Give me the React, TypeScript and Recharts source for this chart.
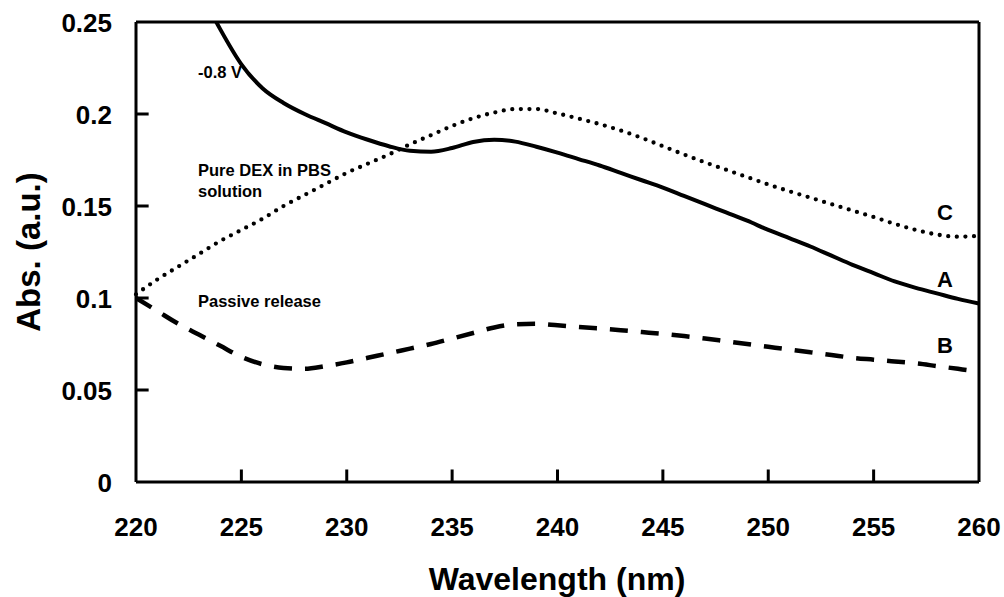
import { Line, LineChart, ReferenceLine, XAxis, YAxis } from "recharts";

const FONT = '"Liberation Sans", Arial, sans-serif';

// wavelength grid (nm)
const wavelengths = [
  220, 221, 222, 223, 224, 225, 226, 227, 228, 229, 230, 231, 232, 233, 234, 235, 236, 237, 238, 239, 240,
  241, 242, 243, 244, 245, 246, 247, 248, 249, 250, 251, 252, 253, 254, 255, 256, 257, 258, 259, 260,
];

// A: -0.8 V (solid) — leaves the top of the frame below 224 nm
const absA = [
  null, null, null, 0.268, 0.246, 0.227, 0.214, 0.206, 0.2, 0.195, 0.19, 0.186, 0.1825, 0.18, 0.1795, 0.1815,
  0.1848, 0.186, 0.185, 0.1822, 0.179, 0.1755, 0.172, 0.168, 0.164, 0.16, 0.1555, 0.151, 0.1465, 0.142, 0.137,
  0.1325, 0.128, 0.123, 0.118, 0.1135, 0.109, 0.1055, 0.1025, 0.0995, 0.097,
];

// B: passive release (dashed)
const absB = [
  0.1, 0.093, 0.086, 0.08, 0.074, 0.068, 0.064, 0.062, 0.0615, 0.063, 0.065, 0.0675, 0.07, 0.0725, 0.075,
  0.078, 0.081, 0.084, 0.0857, 0.086, 0.0852, 0.0843, 0.0834, 0.0825, 0.0815, 0.0805, 0.0793, 0.078, 0.0765,
  0.075, 0.0735, 0.072, 0.0705, 0.069, 0.0675, 0.0665, 0.0655, 0.0645, 0.063, 0.0615, 0.06,
];

// C: pure DEX in PBS solution (dotted)
const absC = [
  0.102, 0.11, 0.117, 0.124, 0.131, 0.137, 0.143, 0.15, 0.156, 0.162, 0.168, 0.173, 0.178, 0.1835, 0.1885,
  0.1935, 0.1977, 0.2008, 0.2027, 0.2027, 0.2003, 0.1975, 0.1945, 0.191, 0.187, 0.1825, 0.178, 0.1737, 0.1697,
  0.1657, 0.1617, 0.158, 0.1545, 0.151, 0.1475, 0.144, 0.1403, 0.137, 0.1345, 0.1333, 0.1338,
];

const xTicks = [220, 225, 230, 235, 240, 245, 250, 255, 260];
const yTicks = [0, 0.05, 0.1, 0.15, 0.2, 0.25];

const data = wavelengths.map((wl, i) => ({ wl, a: absA[i], b: absB[i], c: absC[i] }));

// inward tick marks, in data units (~12px)
const X_TICK_H = 0.0068;
const Y_TICK_W = 0.6;

const TICK_GAP = 20;
const TICK_FONT = 26;

function XTick({ x, y, payload }: any) {
  const axisY = y - TICK_GAP;
  return (
    <text x={x} y={axisY + 54} textAnchor="middle" fontFamily={FONT} fontWeight={700} fontSize={TICK_FONT} fill="#000">
      {payload.value}
    </text>
  );
}

function YTick({ x, y, payload }: any) {
  const axisX = x + TICK_GAP;
  return (
    <text x={axisX - 24} y={y} dy="0.4em" textAnchor="end" fontFamily={FONT} fontWeight={700} fontSize={TICK_FONT} fill="#000">
      {payload.value}
    </text>
  );
}

const noteStyle = {
  position: "absolute" as const,
  fontFamily: FONT,
  fontWeight: 700,
  color: "#000",
  whiteSpace: "nowrap" as const,
  lineHeight: 1,
};

export default function App() {
  return (
    <div style={{ position: "absolute", left: 0, top: 0, width: 1004, height: 597, background: "#fff" }}>
      <LineChart width={1004} height={597} data={data} margin={{ top: 22, right: 25, left: 0, bottom: 0 }}>
        <XAxis
          dataKey="wl"
          type="number"
          domain={[220, 260]}
          ticks={xTicks}
          height={115}
          tickSize={0}
          tickMargin={TICK_GAP}
          tick={<XTick />}
          tickLine={false}
          axisLine={{ stroke: "#000", strokeWidth: 3 }}
        />
        <YAxis
          type="number"
          domain={[0, 0.25]}
          ticks={yTicks}
          allowDataOverflow
          width={136}
          tickSize={0}
          tickMargin={TICK_GAP}
          tick={<YTick />}
          tickLine={false}
          axisLine={{ stroke: "#000", strokeWidth: 3 }}
        />

        {/* frame: top and right edges */}
        <ReferenceLine y={0.25} stroke="#000" strokeWidth={3} ifOverflow="visible" />
        <ReferenceLine x={260} stroke="#000" strokeWidth={3} ifOverflow="visible" />

        {xTicks.slice(1, -1).map((t) => (
          <ReferenceLine
            key={`xt${t}`}
            segment={[
              { x: t, y: 0 },
              { x: t, y: X_TICK_H },
            ]}
            stroke="#000"
            strokeWidth={3}
            ifOverflow="visible"
          />
        ))}
        {yTicks.slice(1, -1).map((t) => (
          <ReferenceLine
            key={`yt${t}`}
            segment={[
              { x: 220, y: t },
              { x: 220 + Y_TICK_W, y: t },
            ]}
            stroke="#000"
            strokeWidth={3}
            ifOverflow="visible"
          />
        ))}

        <Line
          dataKey="c"
          type="monotone"
          stroke="#000"
          strokeWidth={4.3}
          strokeDasharray="0 8.6"
          strokeLinecap="round"
          dot={false}
          isAnimationActive={false}
        />
        <Line
          dataKey="b"
          type="monotone"
          stroke="#000"
          strokeWidth={4.5}
          strokeDasharray="18 13"
          dot={false}
          isAnimationActive={false}
        />
        <Line
          dataKey="a"
          type="monotone"
          stroke="#000"
          strokeWidth={4}
          dot={false}
          isAnimationActive={false}
        />
      </LineChart>

      <div style={{ ...noteStyle, left: 198, top: 64, fontSize: 16.5 }}>-0.8 V</div>
      <div style={{ ...noteStyle, left: 198, top: 160, fontSize: 16.5, lineHeight: "21px" }}>
        Pure DEX in PBS
        <br />
        solution
      </div>
      <div style={{ ...noteStyle, left: 198, top: 293, fontSize: 16.5 }}>Passive release</div>
      <div style={{ ...noteStyle, left: 937, top: 202, fontSize: 22 }}>C</div>
      <div style={{ ...noteStyle, left: 937, top: 269, fontSize: 22 }}>A</div>
      <div style={{ ...noteStyle, left: 937, top: 335, fontSize: 22 }}>B</div>

      <div style={{ ...noteStyle, left: 557, top: 579, fontSize: 32, transform: "translate(-50%, -50%)" }}>
        Wavelength (nm)
      </div>
      <div
        style={{
          ...noteStyle,
          left: 28,
          top: 252,
          fontSize: 33,
          transform: "translate(-50%, -50%) rotate(-90deg)",
        }}
      >
        Abs. (a.u.)
      </div>
    </div>
  );
}
